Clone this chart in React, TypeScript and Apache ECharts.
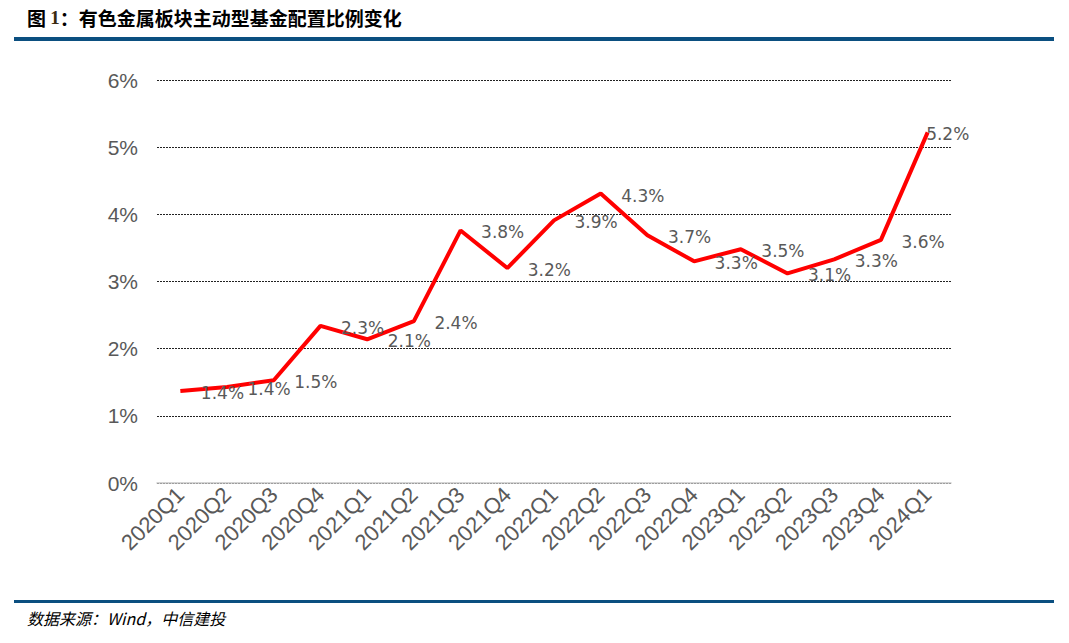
import React, { useEffect, useRef } from "react";
import * as echarts from "echarts";

const categories = [
  "2020Q1", "2020Q2", "2020Q3", "2020Q4",
  "2021Q1", "2021Q2", "2021Q3", "2021Q4",
  "2022Q1", "2022Q2", "2022Q3", "2022Q4",
  "2023Q1", "2023Q2", "2023Q3", "2023Q4",
  "2024Q1",
];
const shareValues = [
  1.37, 1.43, 1.53, 2.34, 2.14, 2.41, 3.76, 3.2, 3.91, 4.31, 3.69, 3.3, 3.48, 3.12, 3.33, 3.62, 5.22,
];
const yTicks = [0, 1, 2, 3, 4, 5, 6];

const titleText = "有色金属板块主动型基金配置比例变化";
const sourceText = "数据来源：Wind，中信建投";

export default function App() {
  const ref = useRef<HTMLDivElement>(null);
  useEffect(() => {
    if (!ref.current) return;
    const chart = echarts.init(ref.current, null, { renderer: "svg" });
    const last = shareValues.length - 1;
    chart.setOption({
      animation: false,
      backgroundColor: "#ffffff",
      grid: { left: 157, right: 118, top: 80, bottom: 160 },
      xAxis: {
        type: "category",
        data: categories,
        boundaryGap: true,
        axisLine: { show: true, lineStyle: { color: "#c8c8c8", width: 1.5 } },
        axisTick: { show: false },
        axisLabel: {
          rotate: 45,
          interval: 0,
          color: "#595959",
          fontFamily: "Liberation Sans, Arial, sans-serif",
          fontSize: 22,
          margin: 8,
        },
      },
      yAxis: {
        type: "value",
        min: yTicks[0],
        max: yTicks[yTicks.length - 1],
        interval: 1,
        axisLine: { show: false },
        axisTick: { show: false },
        splitLine: { show: true, lineStyle: { color: "#222", type: [2, 1], width: 1 } },
        axisLabel: {
          color: "#595959",
          fontFamily: "Liberation Sans, Arial, sans-serif",
          fontSize: 21,
          margin: 19,
          formatter: (v: number) => `${v}%`,
        },
      },
      series: [
        {
          type: "line",
          data: shareValues.map((v, i) =>
            i === last
              ? { value: v, label: { position: "right", distance: 0, offset: [-2, 2] } }
              : v
          ),
          showSymbol: true,
          symbol: "circle",
          symbolSize: 1,
          itemStyle: { color: "rgba(255,0,0,0)" },
          lineStyle: { color: "#ff0000", width: 4 },
          label: {
            show: true,
            position: "right",
            distance: 20,
            offset: [0, 2],
            color: "#595959",
            fontFamily: "DejaVu Sans, Verdana, sans-serif",
            fontSize: 17,
            formatter: (p: any) => `${Number(p.value).toFixed(1)}%`,
          },
        },
      ],
      graphic: [
        {
          type: "text",
          left: 27,
          top: 8,
          style: {
            text: "{a|图 }{b|1}{a|：" + titleText + "}",
            rich: {
              a: { fontFamily: "Noto Sans CJK SC", fontWeight: "bold", fontSize: 19, fill: "#000" },
              b: { fontFamily: "Liberation Serif", fontWeight: "bold", fontSize: 19, fill: "#3a2a10" },
            },
          },
        },
        {
          type: "rect",
          shape: { x: 14, y: 37, width: 1040, height: 4 },
          style: { fill: "#0b4f80" },
        },
        {
          type: "rect",
          shape: { x: 14, y: 600, width: 1040, height: 3 },
          style: { fill: "#0b4f80" },
        },
        {
          type: "text",
          left: 27,
          top: 610,
          style: {
            text: sourceText,
            fontFamily: "Noto Sans CJK SC",
            fontStyle: "italic",
            fontSize: 16,
            fill: "#000",
          },
        },
      ],
    });
    return () => chart.dispose();
  }, []);
  return (
    <div
      ref={ref}
      style={{ position: "absolute", left: 0, top: 0, width: 1069, height: 643 }}
    />
  );
}
